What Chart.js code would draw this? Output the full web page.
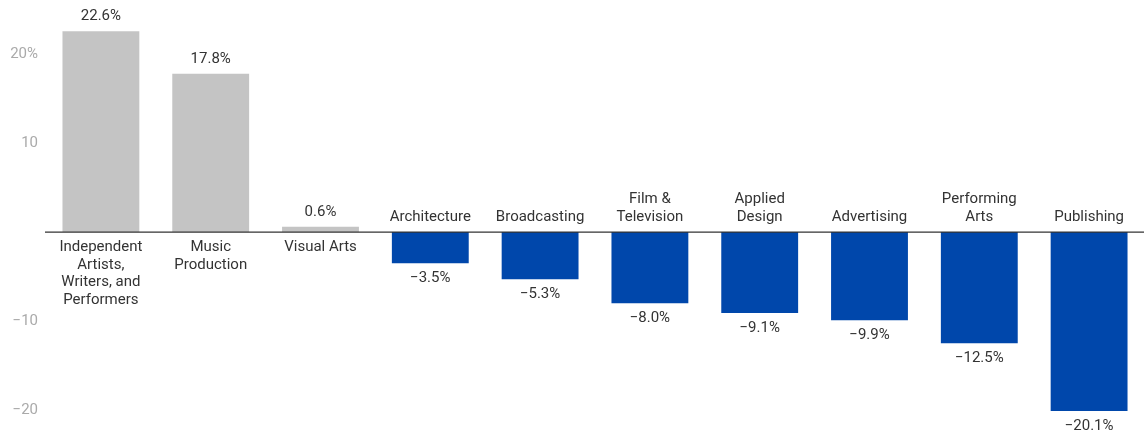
<!DOCTYPE html>
<html>
<head>
<meta charset="utf-8">
<script src="https://cdn.jsdelivr.net/npm/chart.js@4"></script>
<style>
    html, body { margin: 0; padding: 0; background: #fff; }
    #wrap { width: 1144px; height: 434px; position: relative; }
</style>
</head>
<body>
<div id="wrap"><canvas id="chart"></canvas></div>
<script>
// sector labels, one entry per line of text
const SECTORS = [
    ['Independent', 'Artists,', 'Writers, and', 'Performers'],
    ['Music', 'Production'],
    ['Visual Arts'],
    ['Architecture'],
    ['Broadcasting'],
    ['Film &', 'Television'],
    ['Applied', 'Design'],
    ['Advertising'],
    ['Performing', 'Arts'],
    ['Publishing'],
];
const CHANGE = [22.6, 17.8, 0.6, -3.5, -5.3, -8.0, -9.1, -9.9, -12.5, -20.1];
const Y_TICKS = [20, 10, -10, -20];

const GAIN_COLOR = '#c4c4c4';
const LOSS_COLOR = '#0047ab';
const TEXT_COLOR = '#333333';
const FONT = 'Roboto, "Noto Sans", sans-serif';

function fmtPct(v) {
    return (v < 0 ? '\u2212' : '') + Math.abs(v).toFixed(1) + '%';
}

function fmtTick(v) {
    const abs = String(Math.abs(v));
    if (v === 20) return abs + '%';
    return (v < 0 ? '\u2212' : '') + abs;
}

// zero line, value labels and sector names sitting on the zero line
const annotate = {
    id: 'annotate',
    afterDatasetsDraw(chart) {
        const ctx  = chart.ctx;
        const yS   = chart.scales.y;
        const zero = yS.getPixelForValue(0);
        const meta = chart.getDatasetMeta(0);

        ctx.save();
        ctx.strokeStyle = '#333';
        ctx.lineWidth = 1.2;
        ctx.beginPath();
        ctx.moveTo(chart.chartArea.left - 1, zero);
        ctx.lineTo(chart.chartArea.right, zero);
        ctx.stroke();

        ctx.font = '15px ' + FONT;
        ctx.fillStyle = TEXT_COLOR;
        ctx.textAlign = 'center';
        ctx.textBaseline = 'middle';
        const lh = 17.5;

        meta.data.forEach((bar, i) => {
            const v = CHANGE[i];
            const lines = SECTORS[i];
            if (v >= 0) {
                ctx.fillText(fmtPct(v), bar.x, bar.y - 15);
                lines.forEach((t, k) => ctx.fillText(t, bar.x, zero + 15.5 + k * lh));
            } else {
                ctx.fillText(fmtPct(v), bar.x, bar.y + 15);
                const n = lines.length;
                lines.forEach((t, k) => ctx.fillText(t, bar.x, zero - 15 - (n - 1 - k) * lh));
            }
        });
        ctx.restore();
    },
};

new Chart(document.getElementById('chart').getContext('2d'), {
    type: 'bar',
    data: {
        labels: SECTORS.map(s => s.join(' ')),
        datasets: [{
            data: CHANGE,
            backgroundColor: CHANGE.map(v => v >= 0 ? GAIN_COLOR : LOSS_COLOR),
            borderWidth: 0,
            categoryPercentage: 1.0,
            barPercentage: 0.7,
        }],
    },
    options: {
        responsive: true,
        maintainAspectRatio: false,
        animation: false,
        layout: { padding: { left: 0, top: 0, bottom: 0, right: -2 } },
        plugins: {
            legend: { display: false },
            tooltip: { enabled: false },
        },
        scales: {
            x: { display: false },
            y: {
                min: -22.7,
                max: 26.1,
                grid: { display: false, drawTicks: false },
                border: { display: false },
                afterBuildTicks: s => { s.ticks = Y_TICKS.map(v => ({ value: v })); },
                afterFit: s => {
                    s.width = 46;
                    s.paddingTop = 0;
                    s.paddingBottom = 0;
                },
                ticks: {
                    padding: 8,
                    color: '#aaaaaa',
                    font: { family: FONT, size: 15 },
                    callback: v => fmtTick(v),
                },
            },
        },
    },
    plugins: [annotate],
});
</script>
</body>
</html>
